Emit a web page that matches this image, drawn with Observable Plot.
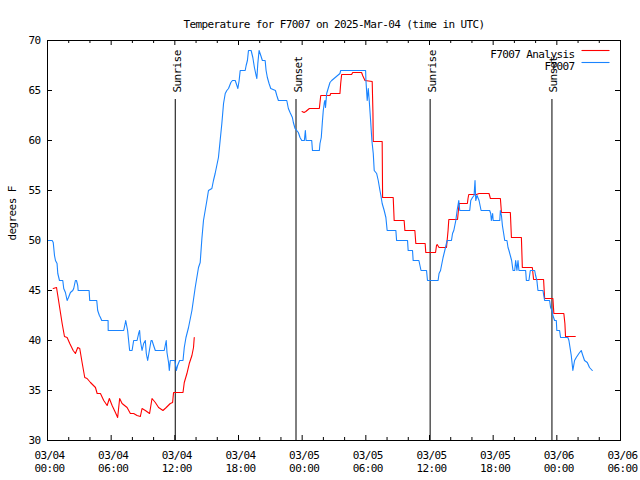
<!DOCTYPE html>
<html>
<head>
<meta charset="utf-8">
<script src="https://cdn.jsdelivr.net/npm/d3@7"></script>
<script src="https://cdn.jsdelivr.net/npm/@observablehq/plot@0.6"></script>
<style>
  html, body { margin: 0; padding: 0; background: #fff; }
  #chart svg text { letter-spacing: -0.6px; }
</style>
</head>
<body>
<div id="chart"></div>
<script>
// ---- Data (hours since 2025-03-04 00:00 UTC) ----
const title = "Temperature for F7007 on 2025-Mar-04 (time in UTC)";
const yLabel = "degrees F";
const seriesNames = ["F7007 Analysis", "F7007"];
const seriesColors = ["#ff0000", "#1a84ff"];

const obsHours = [0.00,0.44,0.54,0.66,0.75,0.90,0.97,1.13,1.44,1.53,1.69,1.85,1.98,2.16,2.38,2.47,2.63,2.73,2.85,2.89,3.92,3.98,4.64,4.73,4.89,4.99,5.11,5.71,5.72,7.18,7.34,7.37,7.55,7.74,7.97,8.12,8.44,8.59,8.68,8.75,8.91,9.06,9.22,9.31,9.44,9.60,9.76,9.85,10.00,10.16,11.00,11.19,11.26,11.41,11.48,11.57,12.01,12.14,12.26,12.45,12.77,12.89,13.05,13.29,13.61,13.92,14.23,14.39,14.55,14.70,15.02,15.17,15.49,15.64,15.80,16.11,16.27,16.43,16.59,16.75,16.90,17.06,17.28,17.43,17.69,17.85,17.94,18.06,18.16,18.63,18.72,18.84,18.94,19.19,19.35,19.50,19.66,19.73,19.82,19.94,20.10,20.25,20.51,20.60,20.72,20.88,21.04,21.48,21.61,21.76,22.55,22.70,22.86,23.08,23.17,23.33,23.49,23.64,23.80,23.96,24.21,24.30,24.37,24.90,24.97,25.62,25.68,25.80,25.90,25.99,26.09,26.15,26.20,26.31,26.62,26.78,27.56,27.63,29.98,30.01,30.13,30.23,30.32,30.45,30.57,30.70,30.79,31.02,31.17,31.33,31.42,31.54,31.73,31.89,32.01,32.83,32.90,33.93,33.99,34.40,34.46,35.00,35.20,35.72,35.81,36.81,36.90,37.04,37.13,37.28,37.44,37.66,38.07,38.17,38.29,38.48,38.60,38.76,38.85,39.79,39.89,40.05,40.20,40.29,40.36,40.48,40.67,40.86,41.67,41.77,41.83,41.95,42.00,42.62,42.68,42.78,42.87,42.99,43.09,43.30,43.40,43.49,43.74,43.87,44.03,44.12,44.24,44.34,44.43,45.06,45.13,45.37,45.50,45.91,46.00,46.12,46.22,46.69,46.85,47.32,47.41,47.54,47.63,47.79,47.95,48.00,48.26,48.35,49.04,49.14,49.36,49.51,49.67,49.83,50.08,50.30,50.45,50.61,50.87,51.08,51.34];
const obsTemps = [50,50,49.8,48.5,48,47.7,46.7,46,46,45.2,44.8,44,44.3,44.8,45,45.2,46,46,45.5,45,45,44,44,43,42.5,42.3,42,42,41,41,41.8,42,41,39,39,40,40,40.7,41,40,39,39.7,40,38.7,38,39,40,40,39.5,39,39,40,38.8,37.8,37,38,38,37,37.5,38,38,39.3,40.3,41.3,43,45.3,47.3,47.8,50.2,52,54,55,55.2,56,56.7,58.3,60,61.7,63.7,64.7,65,65.2,65.8,66,66,65.5,65.2,66,67,67,67.5,68,69,69,68.3,67.3,66.5,66.2,67.7,69,68.5,68,68,67,66.3,65.7,65.2,65,64.5,64,64,63.2,62.8,62.3,61.8,61.2,61,60.8,60.3,60,60,61,60,60,59,59,59.7,60.3,61.8,63,63.8,64,63.3,64.7,65.8,66,66.7,67,67,66,64,65.2,64,62,60,58.7,57,56.7,56,55,54.5,53.7,53,52.3,51,51,50,50,49,49,48,48,47,47,46,46,46.7,47,47.5,48.3,49,50,50,50.7,51,52,53,54,53,53,54,54.3,54.5,56,54,54.5,54,53,53,52.7,52,52.7,52,52,53,52.5,51.5,50.7,50,50,49.3,49,48,47,47,48,47,48,47,47,46,46,47,47,46.5,46,45,45,44,44,43.3,43,42.5,42,42,41,41,40.3,40.3,40,38.5,37,38,38.3,38.7,39,38.5,38,37.8,37.3,37];

const anaHours1 = [0.54,0.85,0.97,1.16,1.38,1.60,1.85,2.10,2.42,2.63,2.85,3.04,3.26,3.51,3.73,4.05,4.52,4.68,4.99,5.30,5.62,5.83,6.09,6.40,6.61,6.80,7.03,7.50,7.81,8.12,8.44,8.75,8.91,9.22,9.62,9.85,10.16,10.47,10.88,11.19,11.57,11.79,11.88,12.77,12.89,13.14,13.36,13.61,13.76,13.83];
const anaTemps1 = [45.2,45.3,44.5,43.2,41.7,40.4,40.3,39.7,39,38.7,39.3,39.2,37.8,36.3,36.2,35.8,35.3,34.7,34.7,34,33.5,34.2,33.5,32.8,32.3,34.2,33.7,33.3,32.7,32.7,32.5,32.4,33.2,33,32.7,34.2,33.8,33.3,33,33.3,33.7,33.8,34.8,34.8,35.8,36.7,37.7,38.5,39.3,40.3];

const anaHours2 = [23.99,24.18,24.34,24.68,25.62,25.68,25.75,26.62,26.69,27.56,27.63,27.72,28.66,28.76,29.60,29.70,29.92,30.60,30.67,30.70,31.54,31.58,32.58,32.67,33.61,33.68,34.62,34.71,35.59,35.65,36.57,36.66,36.72,36.90,37.60,37.75,37.82,38.64,38.79,39.57,39.63,39.70,40.42,40.67,41.61,41.74,42.68,42.78,43.62,43.72,44.66,44.75,45.69,45.81,46.75,46.85,47.63,47.72,48.66,48.76,48.82,49.74];
const anaTemps2 = [62.9,62.8,62.9,63.2,63.2,63.8,64.5,64.5,64.7,64.7,65.7,66.6,66.6,66.8,66.8,66.5,66,65.9,62.8,59.9,59.9,54.3,54.3,52,52,51,51,49.7,49.7,48.8,48.8,49.5,49.6,49.3,49.3,51,52.1,52.1,53.7,53.7,54.2,54.6,54.6,54.7,54.7,54.2,54.2,52.8,52.8,50.3,50.3,47.3,47.3,46.1,46.1,44.2,44.2,42.7,42.7,41.7,40.4,40.4];

const eventHours = [12.04, 23.42, 36.06, 47.54];
const eventLabels = ["Sunrise", "Sunset", "Sunrise", "Sunset"];

const xMajorHours = [0, 6, 12, 18, 24, 30, 36, 42, 48, 54];
const xMinorHours = [2, 4, 8, 10, 14, 16, 20, 22, 26, 28, 32, 34, 38, 40, 44, 46, 50, 52];
const yTicks = [30, 35, 40, 45, 50, 55, 60, 65, 70];

// ---- Build tables ----
const base = Date.UTC(2025, 2, 4, 0, 0);
const toDate = h => new Date(base + h * 3600e3);
const obs = obsHours.map((h, i) => ({t: toDate(h), v: obsTemps[i]}));
const ana1 = anaHours1.map((h, i) => ({t: toDate(h), v: anaTemps1[i]}));
const ana2 = anaHours2.map((h, i) => ({t: toDate(h), v: anaTemps2[i]}));
const events = eventHours.map((h, i) => ({t: toDate(h), label: eventLabels[i]}));
const xMajor = xMajorHours.map(toDate);
const xMinor = xMinorHours.map(toDate);
const pad = n => String(n).padStart(2, "0");
const fmtX = d => `${pad(d.getUTCMonth() + 1)}/${pad(d.getUTCDate())}\n${pad(d.getUTCHours())}:${pad(d.getUTCMinutes())}`;

const swatch = {draw(ctx) { ctx.moveTo(-14, 0); ctx.lineTo(14, 0); }};

const chart = Plot.plot({
  width: 640,
  height: 480,
  marginLeft: 47,
  marginRight: 20,
  marginTop: 40,
  marginBottom: 40,
  style: {fontFamily: "'DejaVu Sans Mono', monospace", fontSize: "11px", background: "#fff", overflow: "visible"},
  x: {type: "utc", domain: [toDate(0), toDate(54)], axis: null},
  y: {domain: [30, 70], axis: null},
  marks: [
    // tick marks (inward, mirrored)
    Plot.ruleX(xMajor, {x: d => d, insetTop: 395, stroke: "black"}),
    Plot.ruleX(xMajor, {x: d => d, insetBottom: 395, stroke: "black"}),
    Plot.ruleX(xMinor, {x: d => d, insetTop: 397, stroke: "black"}),
    Plot.ruleX(xMinor, {x: d => d, insetBottom: 397, stroke: "black"}),
    Plot.ruleY(yTicks, {y: d => d, insetRight: 568, stroke: "black"}),
    Plot.ruleY(yTicks, {y: d => d, insetLeft: 568, stroke: "black"}),
    // tick labels
    Plot.text(yTicks, {y: d => d, frameAnchor: "left", dx: -7, textAnchor: "end", text: d => String(d)}),
    Plot.text(xMajor, {x: d => d, frameAnchor: "bottom", dy: 9, dx: 2, lineAnchor: "top", lineHeight: 1.2, text: fmtX}),
    // sunrise / sunset
    Plot.ruleX(events, {x: "t", insetTop: 59, stroke: "black"}),
    Plot.text(events, {x: "t", frameAnchor: "top", dy: 52, dx: 2, rotate: -90, textAnchor: "start", lineAnchor: "middle", text: "label"}),
    // series
    Plot.line(ana1, {x: "t", y: "v", stroke: seriesColors[0], strokeWidth: 1.1}),
    Plot.line(ana2, {x: "t", y: "v", stroke: seriesColors[0], strokeWidth: 1.1}),
    Plot.line(obs, {x: "t", y: "v", stroke: seriesColors[1], strokeWidth: 1.1}),
    // legend
    Plot.text([seriesNames[0]], {frameAnchor: "top-right", dx: -46, dy: 10, textAnchor: "end", text: d => d}),
    Plot.text([seriesNames[1]], {frameAnchor: "top-right", dx: -46, dy: 22, textAnchor: "end", text: d => d}),
    Plot.dot([seriesNames[0]], {frameAnchor: "top-right", dx: -25, dy: 10, symbol: swatch, fill: "none", stroke: seriesColors[0], strokeWidth: 1.1}),
    Plot.dot([seriesNames[1]], {frameAnchor: "top-right", dx: -25, dy: 22, symbol: swatch, fill: "none", stroke: seriesColors[1], strokeWidth: 1.1}),
    // titles
    Plot.text([title], {frameAnchor: "top", dy: -20, text: d => d}),
    Plot.text([yLabel], {frameAnchor: "left", dx: -35.5, rotate: -90, text: d => d}),
    Plot.frame({stroke: "black"})
  ]
});
document.getElementById("chart").append(chart);
</script>
</body>
</html>
